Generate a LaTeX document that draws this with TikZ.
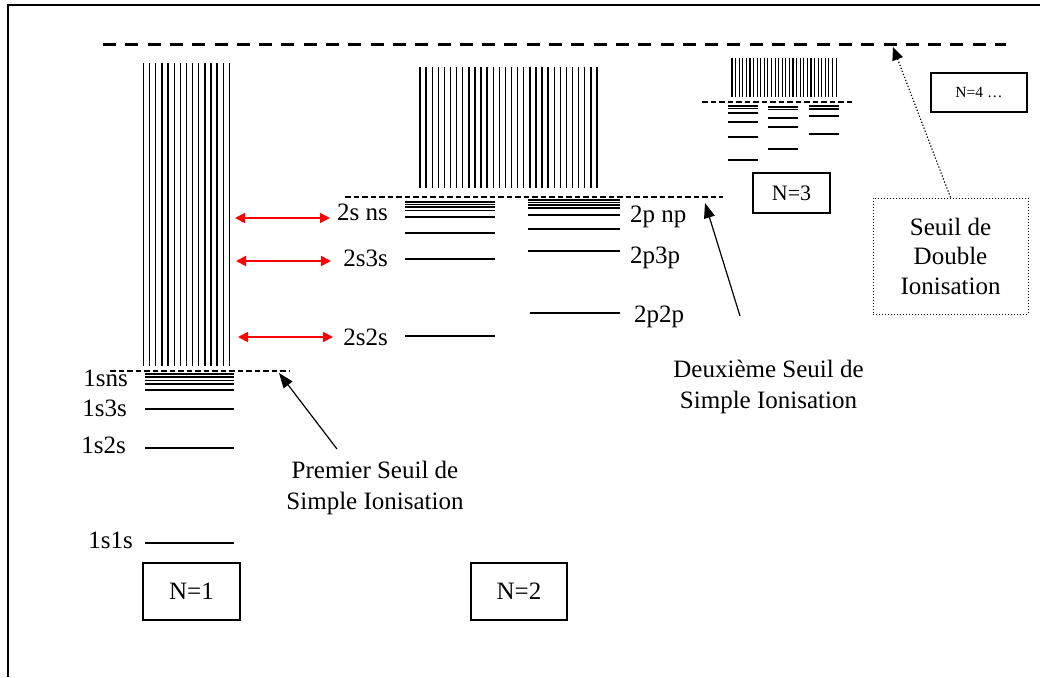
\documentclass[tikz,border=0pt]{standalone}
\usepackage{fontspec}
\setmainfont{Liberation Serif}
\usetikzlibrary{arrows.meta}
\begin{document}
\begin{tikzpicture}[x=1pt,y=-1pt,
  lab/.style={font=\fontsize{25}{30}\selectfont, inner sep=0pt},
  mlab/.style={font=\fontsize{25}{31}\selectfont, inner sep=0pt, align=center},
  nbox/.style={draw, line width=1.3pt, inner sep=0pt, font=\fontsize{25}{30}\selectfont},
  lvl/.style={line width=1.8pt},
  vln/.style={line width=1.4pt},
  vlnthin/.style={line width=1.1pt},
  thr/.style={line width=1.1pt, dash pattern=on 5.5pt off 3pt},
  dthr/.style={line width=3pt, dash pattern=on 13pt off 9.3pt},
  arr/.style={line width=1.2pt, -{Triangle[length=15pt,width=11pt]}},
  dotarr/.style={line width=1.2pt, dotted, -{Triangle[length=13pt,width=11pt]}},
  redarr/.style={red, line width=1.8pt, {Triangle[length=10pt,width=10pt]}-{Triangle[length=10pt,width=10pt]}},
]
\useasboundingbox (0,0) rectangle (1040,677);
% frame
\draw[line width=1.3pt] (8,677) -- (8,5) -- (1040,5);
% double ionisation threshold
\draw[dthr] (103,45) -- (1006,45);
\coordinate (dtop) at (893,47);

% ---------- N=1 ----------
\foreach \i in {0,...,14} \draw[vln] ({143.5+\i*6.14},63) -- ({143.5+\i*6.14},366);
\draw[thr] (110,371) -- (290,371);
\foreach \y in {374,377,380.5,384,390,409,448,543} \draw[lvl] (145,\y) -- (234,\y);
\node[lab, anchor=base east] (l1sns) at (128,386) {1sns};
\node[lab, anchor=base east] (l1s3s) at (127,416) {1s3s};
\node[lab, anchor=base east] (l1s2s) at (126,453) {1s2s};
\node[lab, anchor=base east] (l1s1s) at (133,548) {1s1s};
\node[nbox, minimum width=97pt, minimum height=57pt] (n1) at (191.5,591.5) {N=1};

% ---------- N=2 ----------
\foreach \i in {0,...,29} \draw[vln] ({420+\i*6.1},67) -- ({420+\i*6.1},188);
\draw[thr] (345,197) -- (723,197);
\foreach \y in {202,204.5,207,210.5,217,233,259,336} \draw[lvl] (405,\y) -- (495,\y);
\foreach \y in {200,202.5,205,208,215,229,251} \draw[lvl] (528,\y) -- (620,\y);
\draw[lvl] (530,313) -- (620,313);
\node[lab, anchor=base east] (l2sns) at (388,220) {2s ns};
\node[lab, anchor=base east] (l2s3s) at (388,266) {2s3s};
\node[lab, anchor=base east] (l2s2s) at (388,345) {2s2s};
\node[lab, anchor=base west] (l2pnp) at (630,222) {2p np};
\node[lab, anchor=base west] (l2p3p) at (630,263) {2p3p};
\node[lab, anchor=base west] (l2p2p) at (634,322) {2p2p};
\node[nbox, minimum width=96pt, minimum height=57pt] (n2) at (519,591.5) {N=2};

% ---------- N=3 ----------
\foreach \i in {0,...,29} \draw[vlnthin] ({732+\i*3.59},58) -- ({732+\i*3.59},97);
\draw[thr] (702,102) -- (854,102);
\foreach \y in {106,108.5,113,122,137,160} \draw[lvl] (728,\y) -- (758,\y);
\foreach \y in {107,109.5,118,127,149} \draw[lvl] (768,\y) -- (798,\y);
\foreach \y in {106,109,116,134} \draw[lvl] (809,\y) -- (839,\y);
\node[nbox, minimum width=77pt, minimum height=40pt, font=\fontsize{22}{26}\selectfont] (n3) at (791.5,193) {N=3};

% ---------- N=4 ----------
\node[nbox, minimum width=96pt, minimum height=39pt, font=\fontsize{15.5}{18}\selectfont] (n4) at (979,92.5) {N=4 …};

% ---------- labels ----------
\node[mlab] (prem) at (375,488) {Premier Seuil de\\Simple Ionisation};
\node[mlab] (deux) at (768.5,387) {Deuxième Seuil de\\Simple Ionisation};
\node[draw, dotted, line width=1pt, minimum width=155pt, minimum height=116pt,
      mlab, font=\fontsize{25}{29.5}\selectfont] (sdi) at (950.5,256) {Seuil de\\Double\\Ionisation};

% ---------- arrows ----------
\coordinate (p1s) at (337,449);
\coordinate (p1t) at (279,373);
\draw[arr] (p1s) -- (p1t);
\coordinate (p2s) at (740,316);
\coordinate (p2t) at (705,203);
\draw[arr] (p2s) -- (p2t);
\draw[dotarr] (sdi.north) -- (dtop);

\coordinate (r1a) at (235,218); \coordinate (r1b) at (330,218);
\coordinate (r2a) at (236,261); \coordinate (r2b) at (331,261);
\coordinate (r3a) at (238,337); \coordinate (r3b) at (333,337);
\draw[redarr] (r1a) -- (r1b);
\draw[redarr] (r2a) -- (r2b);
\draw[redarr] (r3a) -- (r3b);
\end{tikzpicture}
\end{document}
